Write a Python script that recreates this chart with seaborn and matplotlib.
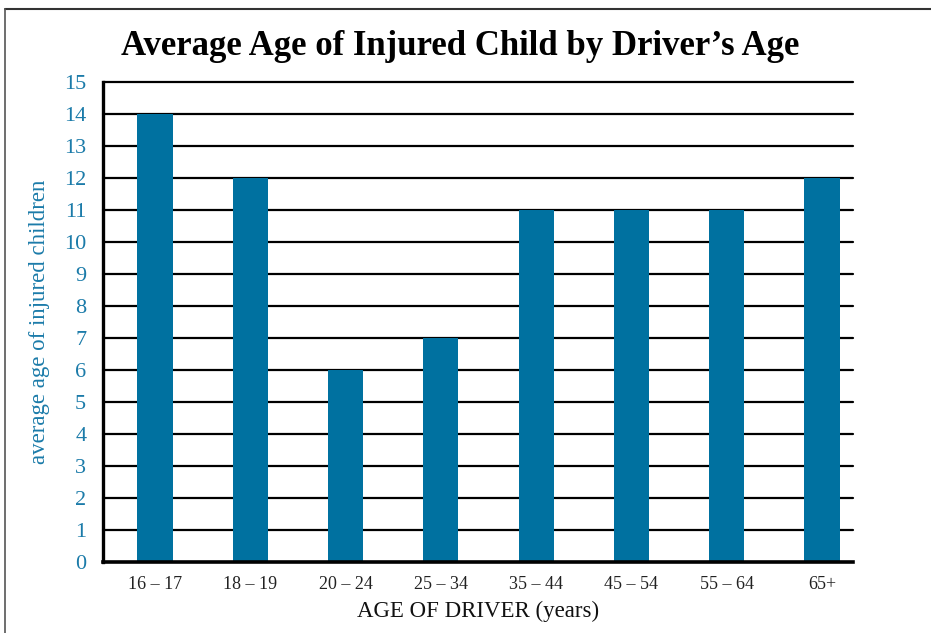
import matplotlib
matplotlib.use('Agg')
import matplotlib.pyplot as plt
import seaborn as sns
import pandas as pd
from matplotlib.lines import Line2D

# data
driver_ages = ['16 – 17', '18 – 19', '20 – 24', '25 – 34', '35 – 44', '45 – 54', '55 – 64', '65+']
avg_child_age = [14, 12, 6, 7, 11, 11, 11, 12]
y_ticks = list(range(0, 16))

df = pd.DataFrame({'driver': driver_ages, 'age': avg_child_age})

sns.set_style('white')
plt.rcParams['font.family'] = ['Liberation Serif', 'DejaVu Serif']

bar_color = '#0071a0'
tick_color = '#1b7ba9'

fig = plt.figure(figsize=(9.31, 6.33), dpi=100)
ax = fig.add_axes([0.1106, 0.1122, 0.8056, 0.7583])

sns.barplot(data=df, x='driver', y='age', color=bar_color, width=0.37,
            saturation=1, linewidth=0, ax=ax, zorder=3)

ax.set_ylim(0, 15)
ax.set_xlim(-0.546, 7.325)
ax.set_yticks(y_ticks)
for y in y_ticks[1:]:
    ax.axhline(y, color='black', lw=1.6, zorder=1, clip_on=False)

for s in ['top', 'right']:
    ax.spines[s].set_visible(False)
ax.spines['left'].set_linewidth(2.4)
ax.spines['bottom'].set_linewidth(2.6)
ax.spines['left'].set_color('black')
ax.spines['bottom'].set_color('black')
ax.spines['bottom'].set_zorder(5)

ax.tick_params(axis='y', length=0, pad=12, labelsize=16, labelcolor=tick_color)
ax.tick_params(axis='x', length=0, pad=10, labelsize=13, labelcolor='#222222')

ax.set_xlabel('AGE OF DRIVER (years)', fontsize=16.5, color='#111111', labelpad=6)
ax.set_ylabel('average age of injured children', fontsize=16.5, color=tick_color, labelpad=10)

fig.text(0.494, 0.927, 'Average Age of Injured Child by Driver\u2019s Age',
         ha='center', va='center', fontsize=25, fontweight='bold', color='black')

# frame lines on top and left of the figure
fig.add_artist(Line2D([5 / 931, 1], [1 - 9 / 633, 1 - 9 / 633], color='#333333', lw=1.5))
fig.add_artist(Line2D([5 / 931, 5 / 931], [0, 1 - 9 / 633], color='#555555', lw=1.2))

fig.savefig('out.png', dpi=100)
